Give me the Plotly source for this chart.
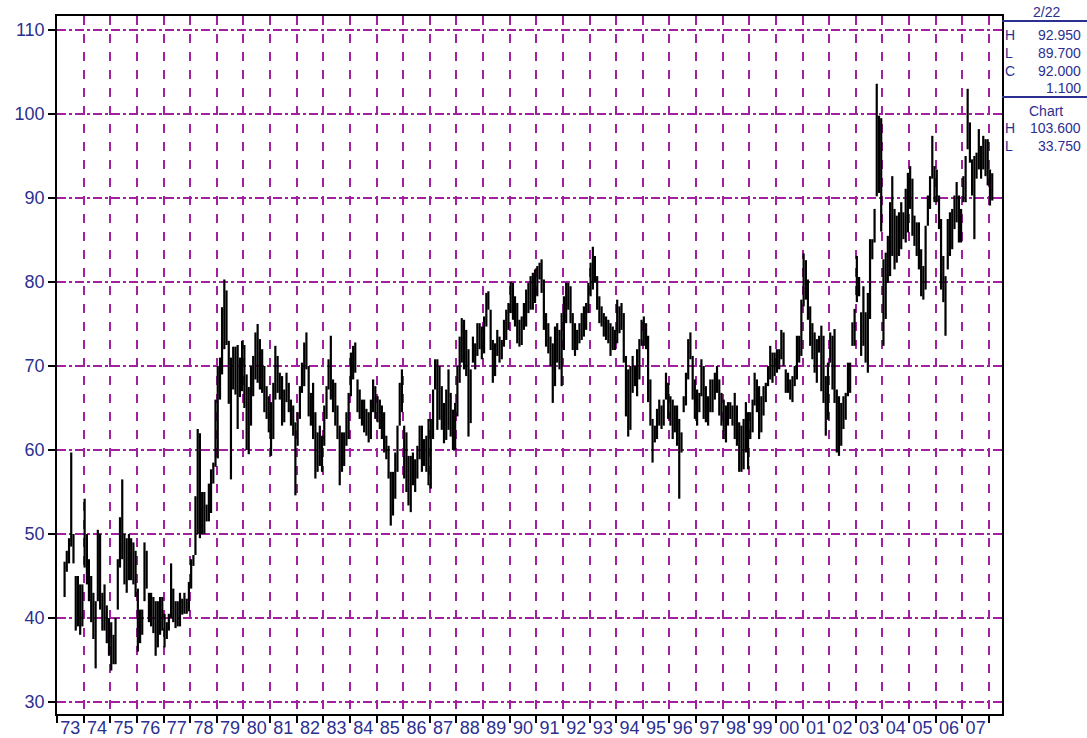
import pandas as pd
import plotly.graph_objects as go

# Monthly high / low estimates (Apr 1973 .. Feb 2008)
start_month = "1973-04-01"

high = [
    46.7, 48.0, 49.5, 59.7, 50.0, 45.0, 45.0, 44.0, 44.0,                       # 1973
    54.2, 50.0, 47.0, 45.0, 43.0, 42.0, 50.5, 50.0, 43.0, 44.0, 41.5, 40.0,     # 1974
    39.5, 38.0, 40.0, 47.0, 52.0, 56.5, 50.0, 49.5, 50.0, 49.5, 49.0, 48.0,     # 1975
    43.5, 41.0, 41.0, 49.0, 48.0, 43.0, 43.0, 42.5, 42.0, 42.0, 42.5, 42.5,     # 1976
    40.5, 39.5, 40.5, 46.5, 43.5, 42.0, 42.0, 43.0, 42.3, 43.0, 42.3, 44.3,     # 1977
    47.0, 47.5, 54.5, 62.5, 62.0, 55.0, 55.0, 53.5, 56.0, 57.7, 58.5, 66.0,     # 1978
    70.0, 71.0, 77.0, 80.3, 79.0, 73.0, 71.0, 72.3, 72.3, 72.5, 71.0, 73.0,     # 1979
    72.5, 69.0, 67.5, 70.0, 71.2, 74.0, 75.0, 73.2, 72.0, 70.0, 67.6, 66.4,     # 1980
    65.7, 68.0, 72.4, 71.2, 69.2, 68.8, 67.2, 69.2, 68.0, 66.0, 65.3, 63.3,     # 1981
    64.5, 67.6, 70.4, 72.8, 74.0, 70.0, 66.8, 68.0, 64.5, 62.1, 62.9, 61.7,     # 1982
    65.3, 67.6, 70.8, 73.6, 68.4, 68.0, 65.3, 62.9, 62.1, 62.1, 64.5, 66.8,     # 1983
    71.6, 72.4, 72.8, 68.4, 67.2, 66.0, 66.0, 64.9, 64.5, 66.0, 68.4, 67.6,     # 1984
    66.4, 66.0, 65.3, 64.5, 61.7, 60.5, 57.4, 57.4, 59.7, 62.9, 68.0, 69.6,     # 1985
    62.9, 62.1, 59.3, 59.3, 59.7, 58.9, 60.5, 62.9, 62.9, 61.3, 61.7, 63.7,     # 1986
    63.7, 67.2, 70.8, 70.8, 70.0, 67.6, 65.6, 67.2, 69.6, 66.8, 64.8, 65.6,     # 1987
    70.0, 73.5, 75.7, 75.5, 74.3, 72.0, 69.6, 73.5, 72.7, 75.1, 75.1, 74.7,     # 1988
    75.9, 78.7, 78.9, 76.7, 73.1, 72.7, 74.3, 73.5, 73.1, 75.5, 76.7, 77.5,     # 1989
    80.0, 79.9, 78.3, 77.5, 75.5, 75.9, 77.5, 79.1, 79.9, 80.7, 81.1, 81.5,     # 1990
    81.9, 82.3, 82.7, 80.3, 76.3, 75.1, 73.5, 72.7, 74.7, 75.1, 74.3, 76.3,     # 1991
    78.3, 79.9, 79.9, 79.5, 76.3, 75.1, 74.3, 75.1, 76.3, 77.1, 77.5, 79.9,     # 1992
    82.3, 84.2, 83.1, 80.7, 78.3, 77.1, 76.3, 75.9, 75.5, 75.1, 74.7, 74.3,     # 1993
    77.9, 77.1, 77.5, 76.3, 71.2, 69.6, 70.0, 71.2, 70.0, 72.0, 73.2, 75.5,     # 1994
    75.9, 75.1, 73.6, 68.4, 63.7, 62.9, 64.9, 66.0, 65.3, 66.0, 69.2, 68.0,     # 1995
    66.4, 66.0, 65.3, 65.3, 63.7, 62.1, 66.4, 69.2, 73.2, 74.0, 71.2, 68.4,     # 1996
    67.2, 66.8, 70.8, 70.0, 67.6, 66.4, 68.4, 68.4, 69.2, 70.0, 68.4, 66.8,     # 1997
    66.0, 65.3, 65.7, 65.7, 65.3, 66.8, 65.3, 63.3, 62.9, 63.7, 65.7, 64.5,     # 1998
    64.5, 66.0, 69.2, 68.4, 67.6, 66.4, 67.6, 68.0, 70.0, 72.4, 71.6, 71.6,     # 1999
    72.0, 72.0, 74.3, 74.0, 69.6, 69.2, 68.4, 68.8, 70.0, 73.6, 73.6, 77.9,     # 2000
    83.4, 82.6, 80.3, 77.1, 75.1, 74.0, 73.2, 73.6, 74.8, 73.6, 68.8, 70.4,     # 2001
    74.0, 73.6, 74.4, 67.2, 66.4, 65.6, 66.4, 66.8, 70.4, 70.4, 75.2, 76.8,     # 2002
    83.1, 80.6, 76.4, 79.5, 76.4, 78.7, 85.1, 85.1, 88.7, 103.6, 99.8, 99.5,    # 2003
    82.7, 83.5, 85.5, 89.5, 92.6, 88.7, 87.9, 88.3, 89.5, 88.3, 91.1, 93.0,     # 2004
    93.8, 92.3, 87.9, 87.1, 87.1, 83.9, 81.9, 86.7, 90.3, 92.6, 97.4, 93.8,     # 2005
    93.4, 90.3, 87.5, 83.1, 80.7, 87.5, 88.3, 88.7, 90.3, 91.9, 90.3, 88.7,     # 2006
    92.6, 95.0, 103.0, 99.0, 94.6, 95.0, 95.4, 98.2, 96.2, 97.4, 97.0, 97.0,    # 2007
    93.4, 92.95,                                                                # 2008
]

low = [
    42.5, 45.5, 46.5, 48.5, 46.5, 38.5, 39.0, 38.0, 39.0,                       # 1973
    46.0, 44.0, 42.0, 39.5, 37.5, 34.0, 42.0, 41.0, 38.5, 38.5, 37.0, 35.5,     # 1974
    33.75, 34.5, 34.5, 41.0, 46.0, 47.0, 44.0, 43.0, 44.5, 44.5, 44.0, 42.5,    # 1975
    36.0, 37.0, 38.0, 42.0, 43.5, 39.5, 39.0, 38.2, 35.5, 36.5, 38.0, 38.5,     # 1976
    36.5, 37.5, 38.5, 40.0, 39.5, 38.8, 39.0, 39.0, 40.4, 40.5, 40.5, 40.8,     # 1977
    43.5, 46.2, 47.5, 50.0, 49.5, 50.0, 50.0, 51.5, 51.5, 52.5, 56.0, 58.0,     # 1978
    59.0, 66.0, 69.0, 72.0, 72.5, 65.5, 56.5, 67.2, 66.6, 62.5, 66.3, 67.0,     # 1979
    65.0, 60.0, 59.5, 62.9, 66.4, 68.4, 68.0, 67.2, 66.8, 64.5, 63.7, 62.1,     # 1980
    59.3, 61.3, 66.0, 66.8, 66.0, 62.9, 63.3, 65.7, 64.5, 62.9, 61.7, 54.6,     # 1981
    60.5, 63.7, 66.8, 67.6, 69.6, 64.0, 62.9, 61.3, 56.6, 57.4, 58.1, 57.4,     # 1982
    60.5, 63.7, 67.2, 66.0, 64.5, 62.9, 61.3, 55.8, 57.4, 58.1, 60.5, 61.3,     # 1983
    66.4, 68.4, 69.2, 64.5, 63.7, 62.9, 62.1, 61.7, 60.9, 61.3, 64.5, 63.7,     # 1984
    63.3, 62.5, 61.3, 59.7, 58.9, 56.6, 51.0, 52.2, 54.2, 57.4, 62.9, 64.5,     # 1985
    56.6, 55.0, 53.4, 52.6, 55.8, 55.0, 56.6, 58.9, 57.4, 58.1, 57.4, 55.8,     # 1986
    55.4, 61.3, 67.2, 62.4, 63.6, 62.4, 60.8, 61.2, 62.4, 61.6, 60.0, 60.0,     # 1987
    64.0, 68.0, 70.4, 69.6, 68.8, 61.6, 63.2, 70.4, 69.6, 71.2, 72.0, 70.8,     # 1988
    71.5, 74.7, 76.7, 71.9, 68.0, 68.8, 71.2, 70.4, 70.8, 72.3, 73.1, 74.3,     # 1989
    76.3, 75.5, 74.7, 72.7, 72.3, 72.5, 74.3, 74.7, 76.3, 76.7, 76.7, 77.5,     # 1990
    78.3, 80.3, 78.7, 74.3, 72.3, 71.5, 70.0, 65.6, 67.6, 70.4, 69.6, 67.6,     # 1991
    71.9, 75.1, 76.7, 75.1, 71.9, 71.2, 71.9, 72.7, 73.1, 73.5, 74.3, 76.3,     # 1992
    78.3, 79.1, 79.9, 76.7, 75.1, 74.7, 73.5, 73.1, 72.7, 71.2, 71.9, 71.9,     # 1993
    72.7, 73.9, 74.3, 70.4, 64.0, 61.6, 62.4, 66.8, 67.6, 66.4, 68.4, 72.4,     # 1994
    72.4, 72.0, 65.7, 62.9, 58.5, 60.9, 61.3, 62.9, 62.5, 62.9, 66.0, 63.7,     # 1995
    62.9, 61.3, 62.1, 60.5, 54.2, 59.7, 64.5, 65.3, 68.4, 70.8, 66.0, 63.7,     # 1996
    62.9, 64.5, 66.4, 63.7, 63.3, 62.9, 64.5, 64.5, 66.0, 66.8, 64.1, 62.9,     # 1997
    61.3, 60.9, 62.9, 63.7, 62.9, 61.3, 60.5, 57.4, 57.4, 57.7, 59.7, 57.7,     # 1998
    61.3, 62.1, 65.3, 64.5, 61.3, 62.1, 64.1, 65.7, 67.6, 68.4, 68.0, 68.8,     # 1999
    69.2, 69.6, 70.8, 70.0, 66.8, 66.8, 66.0, 65.7, 67.6, 68.4, 70.4, 71.2,     # 2000
    77.1, 77.9, 75.5, 72.4, 70.8, 69.2, 68.0, 71.6, 67.0, 65.6, 61.7, 63.6,     # 2001
    70.4, 67.2, 65.6, 59.7, 59.3, 60.5, 62.5, 63.6, 66.4, 66.8, 72.4, 72.4,     # 2002
    77.6, 78.3, 71.2, 72.4, 70.4, 69.2, 75.6, 82.7, 84.7, 90.2, 90.6, 86.0,     # 2003
    72.4, 75.6, 79.9, 80.7, 83.1, 81.5, 82.3, 83.1, 83.9, 85.1, 84.7, 85.9,     # 2004
    88.7, 85.5, 84.3, 83.1, 81.5, 78.3, 77.9, 79.1, 86.7, 88.7, 92.3, 89.5,     # 2005
    89.5, 86.3, 79.1, 77.6, 73.6, 81.5, 83.1, 83.9, 86.3, 87.1, 84.7, 84.7,     # 2006
    89.5, 89.5, 95.8, 94.2, 90.3, 85.1, 92.3, 93.4, 92.3, 93.4, 92.6, 91.5,     # 2007
    89.1, 89.7,                                                                 # 2008
]

y_ticks = [30, 40, 50, 60, 70, 80, 90, 100, 110]

last_bar = {"date": "2/22", "H": "92.950", "L": "89.700", "C": "92.000", "chg": "1.100"}
chart_range = {"H": "103.600", "L": "33.750"}

# ---------------------------------------------------------------------------
dates = pd.date_range(start_month, periods=len(high), freq="MS") + pd.Timedelta(days=14)

xs, ys = [], []
for d, h, l in zip(dates, high, low):
    xs += [d, d, None]
    ys += [l, h, None]

NAVY = "#2B2F8F"
PURPLE = "#A020A0"
FONT = "Liberation Sans, Arial, sans-serif"

fig = go.Figure()
fig.add_trace(go.Scatter(x=xs, y=ys, mode="lines",
                         line=dict(color="black", width=2.2),
                         hoverinfo="skip", showlegend=False))

# plot area in px: x 57..1002, y 16..714
L_PX, R_PX, T_PX, B_PX = 57, 1002, 16, 714
W, H = 1087, 738

def px(x):
    return (x - L_PX) / (R_PX - L_PX)

def py(y):
    return (B_PX - y) / (B_PX - T_PX)

fig.update_layout(
    width=W, height=H,
    margin=dict(l=L_PX, r=W - R_PX, t=T_PX, b=H - B_PX, autoexpand=False),
    paper_bgcolor="white", plot_bgcolor="white",
    font=dict(family=FONT, color=NAVY),
    showlegend=False,
)

fig.update_xaxes(
    type="date",
    range=["1973-01-01", "2008-06-28"],
    tick0="1973-01-01", dtick="M12", tickformat="%y",
    ticklabelmode="period",
    showgrid=True, gridcolor=PURPLE, gridwidth=1.5, griddash="dash",
    ticks="outside", ticklen=7, tickcolor="black", tickwidth=1.5,
    showline=True, linecolor="black", linewidth=1.5, mirror=True,
    tickfont=dict(family=FONT, size=18, color=NAVY),
    ticklabelstandoff=-10,
    zeroline=False, automargin=False,
)

fig.update_yaxes(
    range=[30 - (B_PX - 702) / 8.4, 110 + (30 - T_PX) / 8.4],
    tickvals=y_ticks,
    showgrid=True, gridcolor=PURPLE, gridwidth=1.5, griddash="dashdot",
    ticks="outside", ticklen=7, tickcolor="black", tickwidth=1.5,
    showline=True, linecolor="black", linewidth=1.5, mirror=True,
    tickfont=dict(family=FONT, size=18, color=NAVY),
    zeroline=False, automargin=False,
)

def note(text, xpx, ypx, anchor):
    fig.add_annotation(text=text, x=px(xpx), y=py(ypx), xref="paper", yref="paper",
                       xanchor=anchor, yanchor="middle", showarrow=False,
                       font=dict(family=FONT, size=14, color=NAVY))

note(last_bar["date"], 1046, 12, "center")
note("H", 1003, 35, "left");  note(last_bar["H"], 1083, 35, "right")
note("L", 1003, 53, "left");  note(last_bar["L"], 1083, 53, "right")
note("C", 1003, 71, "left");  note(last_bar["C"], 1083, 71, "right")
note(last_bar["chg"], 1083, 88, "right")
note("Chart", 1046, 111, "center")
note("H", 1003, 128, "left"); note(chart_range["H"], 1083, 128, "right")
note("L", 1003, 146, "left"); note(chart_range["L"], 1083, 146, "right")

for yline in (21, 97):
    fig.add_shape(type="line", xref="paper", yref="paper",
                  x0=px(1002), x1=px(1087), y0=py(yline), y1=py(yline),
                  line=dict(color=NAVY, width=2))

fig.write_html("out.html",
               config={"displayModeBar": False},
               post_script="document.body.style.margin='0';"
                           "document.body.style.overflow='hidden';")
